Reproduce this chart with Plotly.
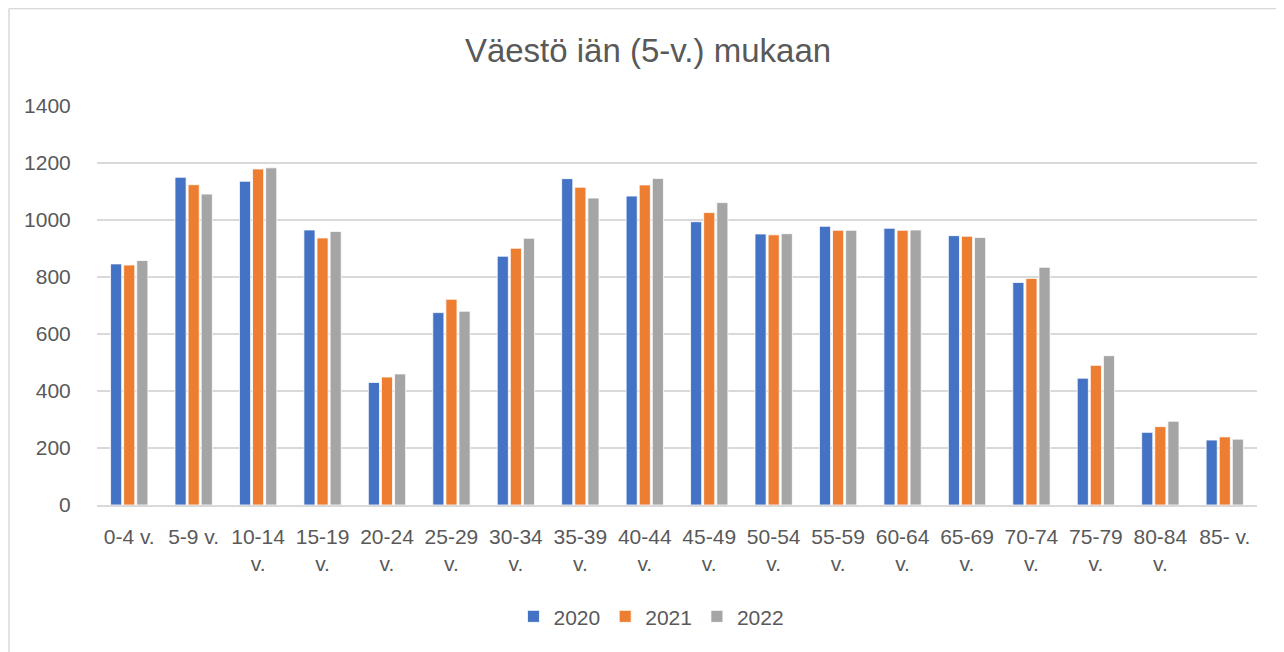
import plotly.graph_objects as go

categories = ["0-4 v.", "5-9 v.", "10-14<br>v.", "15-19<br>v.", "20-24<br>v.", "25-29<br>v.",
              "30-34<br>v.", "35-39<br>v.", "40-44<br>v.", "45-49<br>v.", "50-54<br>v.",
              "55-59<br>v.", "60-64<br>v.", "65-69<br>v.", "70-74<br>v.", "75-79<br>v.",
              "80-84<br>v.", "85- v."]
v2020 = [846, 1150, 1136, 965, 430, 675, 873, 1145, 1084, 994, 951, 978, 971, 945, 781, 445, 255, 228]
v2021 = [842, 1124, 1179, 937, 449, 722, 901, 1115, 1123, 1026, 948, 964, 964, 943, 795, 490, 275, 239]
v2022 = [858, 1091, 1183, 960, 460, 680, 936, 1077, 1146, 1061, 952, 964, 965, 939, 834, 524, 294, 231]
years = ["2020", "2021", "2022"]
colors = ["#4472C4", "#ED7D31", "#A5A5A5"]
y_ticks = [0, 200, 400, 600, 800, 1000, 1200, 1400]

FONT = "Liberation Sans, Arial, sans-serif"
TXT = "#595959"

# page body has an 8px offset; plot area target: x 97..1257, y 106..505 in screenshot
L, T, PW, PH = 89, 98, 1160, 399
W, H = 1284, 652


def px_x(p):
    return (p - L) / PW


def px_y(p):
    return (T + PH - p) / PH


fig = go.Figure()
for name, vals, col in zip(years, [v2020, v2021, v2022], colors):
    fig.add_trace(go.Bar(x=categories, y=vals, name=name, marker_color=col,
                         marker_line_color="white", marker_line_width=0.8))

fig.update_layout(
    width=W, height=H,
    margin=dict(l=L, r=W - L - PW, t=T, b=H - T - PH),
    paper_bgcolor="white", plot_bgcolor="white",
    barmode="group", bargap=0.39, bargroupgap=0.15,
    font=dict(family=FONT, color=TXT, size=21),
    title=dict(text="Väestö iän (5-v.) mukaan", x=(648 - 8) / W, xanchor="center",
               y=1 - (50 - 8) / H, yanchor="middle",
               font=dict(family=FONT, size=33, color=TXT)),
    legend=dict(orientation="h", x=0.478, xanchor="center", y=-0.28, yanchor="middle",
                font=dict(size=21, color=TXT), itemwidth=30,
                traceorder="normal"),
    xaxis=dict(tickfont=dict(size=21, color=TXT), showline=True, linecolor="#D9D9D9",
               linewidth=1.5, ticks="outside", ticklen=12, tickcolor="rgba(0,0,0,0)",
               tickangle=0, fixedrange=True),
    yaxis=dict(range=[0, 1400], tickvals=y_ticks, tickfont=dict(size=21, color=TXT),
               showgrid=True, gridcolor="#D9D9D9", gridwidth=1.5, zeroline=False,
               ticks="outside", ticklen=21, tickcolor="rgba(0,0,0,0)", fixedrange=True),
    shapes=[
        dict(type="line", xref="paper", yref="paper",
             x0=px_x(1), x1=px_x(1), y0=px_y(0.5), y1=px_y(700),
             line=dict(color="#D9D9D9", width=1.5)),
        dict(type="line", xref="paper", yref="paper",
             x0=px_x(1), x1=px_x(1300), y0=px_y(0.5), y1=px_y(0.5),
             line=dict(color="#D9D9D9", width=1.5)),
    ],
)

fig.write_html("out.html")
